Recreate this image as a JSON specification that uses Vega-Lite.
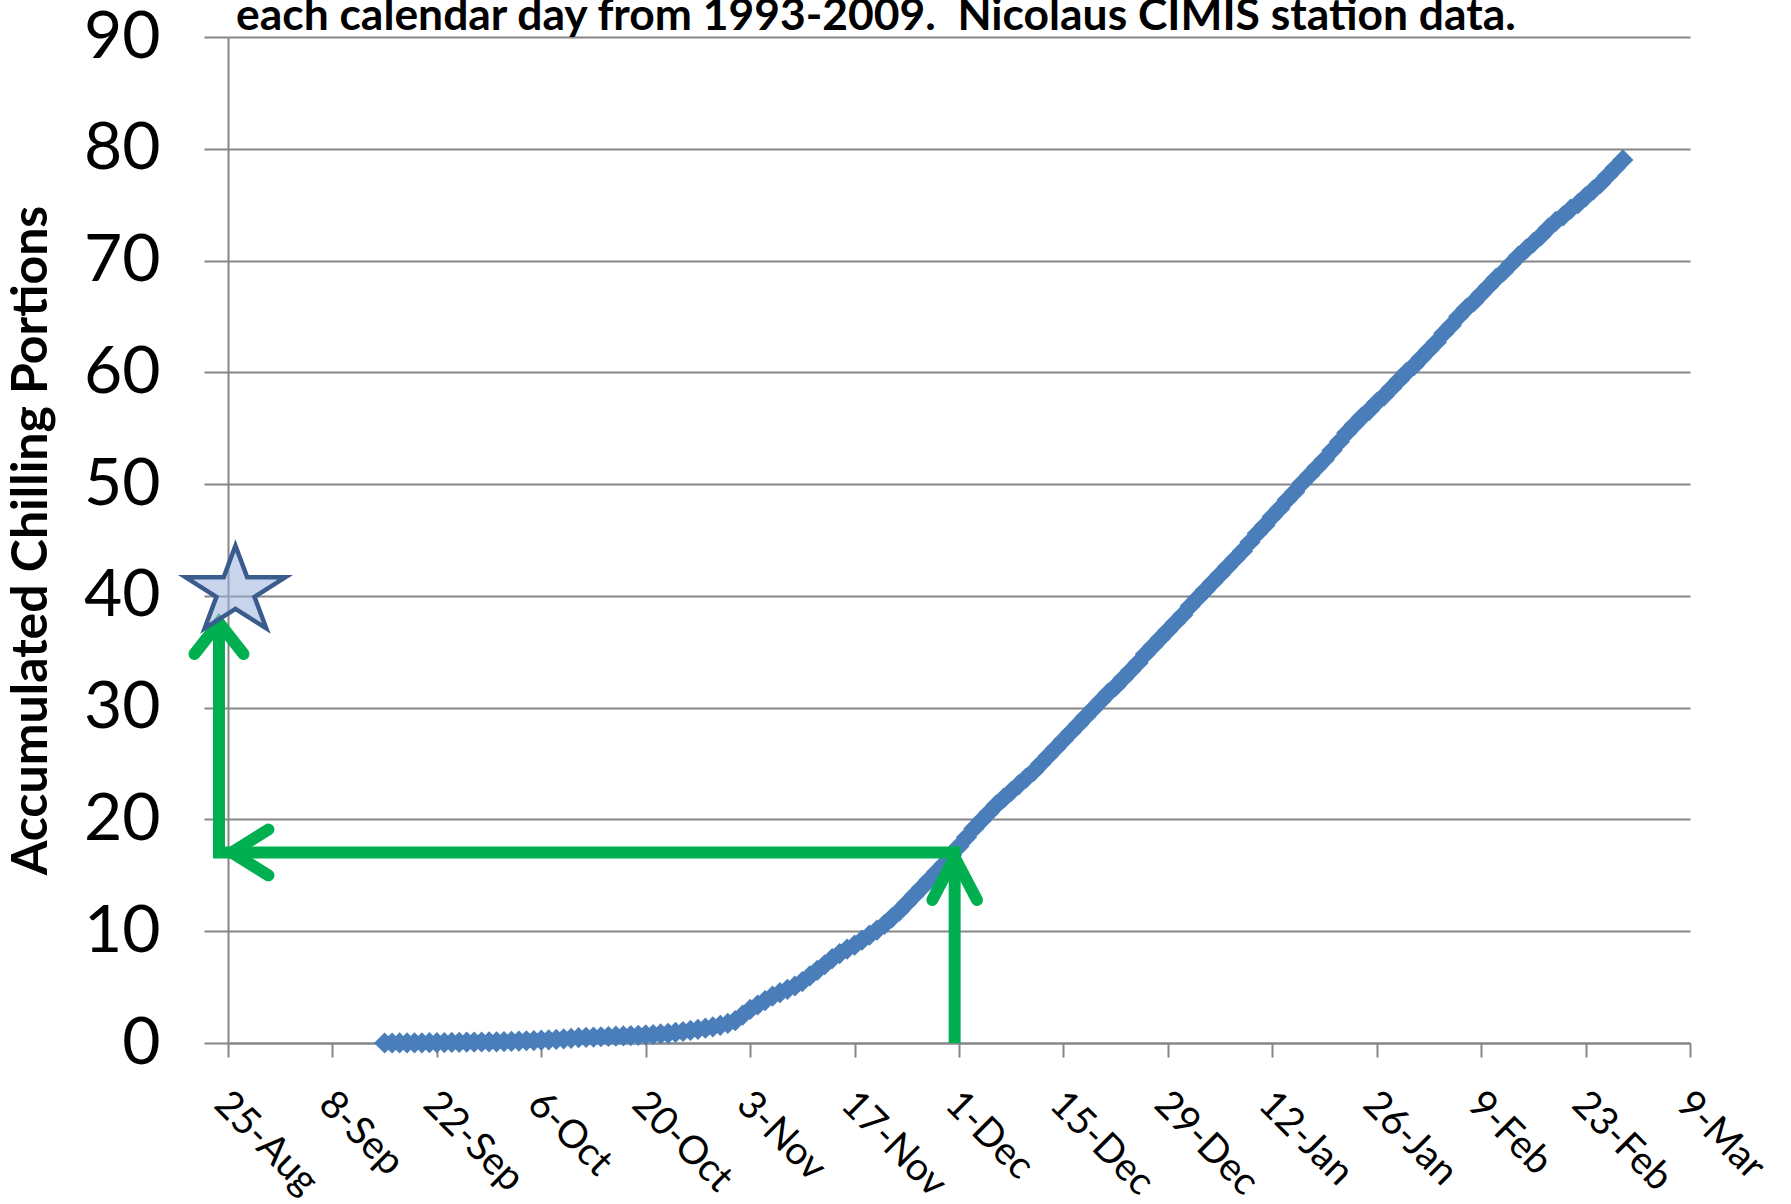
{
 "$schema": "https://vega.github.io/schema/vega-lite/v6.json",
 "width": 1462,
 "height": 1006,
 "autosize": {"type": "none"},
 "padding": {"left": 228, "top": 37, "right": 101, "bottom": 161},
 "background": "white",
 "config": {"view": {"stroke": null}, "font": "Lato"},
 "title": {"text": "each calendar day from 1993-2009.\u00a0 Nicolaus CIMIS station data.", "anchor": "start", "frame": "group", "orient": "top", "offset": 0, "dx": 8, "dy": 70, "baseline": "alphabetic", "font": "Lato", "fontSize": 44.4, "fontWeight": "bold", "color": "black"},
 "datasets": {
  "cp": [
   {"date":"2008-09-15","cp":0.00},{"date":"2008-09-16","cp":0.00},{"date":"2008-09-17","cp":0.01},{"date":"2008-09-18","cp":0.01},{"date":"2008-09-19","cp":0.02},{"date":"2008-09-20","cp":0.02},{"date":"2008-09-21","cp":0.03},{"date":"2008-09-22","cp":0.03},{"date":"2008-09-23","cp":0.04},{"date":"2008-09-24","cp":0.05},{"date":"2008-09-25","cp":0.06},{"date":"2008-09-26","cp":0.07},{"date":"2008-09-27","cp":0.08},{"date":"2008-09-28","cp":0.09},{"date":"2008-09-29","cp":0.10},{"date":"2008-09-30","cp":0.11},
   {"date":"2008-10-01","cp":0.13},{"date":"2008-10-02","cp":0.15},{"date":"2008-10-03","cp":0.17},{"date":"2008-10-04","cp":0.20},{"date":"2008-10-05","cp":0.22},{"date":"2008-10-06","cp":0.25},{"date":"2008-10-07","cp":0.28},{"date":"2008-10-08","cp":0.32},{"date":"2008-10-09","cp":0.36},{"date":"2008-10-10","cp":0.42},{"date":"2008-10-11","cp":0.48},{"date":"2008-10-12","cp":0.51},{"date":"2008-10-13","cp":0.53},{"date":"2008-10-14","cp":0.56},{"date":"2008-10-15","cp":0.58},{"date":"2008-10-16","cp":0.61},{"date":"2008-10-17","cp":0.63},{"date":"2008-10-18","cp":0.66},{"date":"2008-10-19","cp":0.69},{"date":"2008-10-20","cp":0.72},{"date":"2008-10-21","cp":0.76},{"date":"2008-10-22","cp":0.81},{"date":"2008-10-23","cp":0.87},{"date":"2008-10-24","cp":0.95},{"date":"2008-10-25","cp":1.03},{"date":"2008-10-26","cp":1.12},{"date":"2008-10-27","cp":1.22},{"date":"2008-10-28","cp":1.33},{"date":"2008-10-29","cp":1.45},{"date":"2008-10-30","cp":1.58},{"date":"2008-10-31","cp":1.75},
   {"date":"2008-11-01","cp":2.0},{"date":"2008-11-02","cp":2.5},{"date":"2008-11-03","cp":3.0},{"date":"2008-11-04","cp":3.4},{"date":"2008-11-05","cp":3.8},{"date":"2008-11-06","cp":4.2},{"date":"2008-11-07","cp":4.5},{"date":"2008-11-08","cp":4.8},{"date":"2008-11-09","cp":5.1},{"date":"2008-11-10","cp":5.5},{"date":"2008-11-11","cp":6.0},{"date":"2008-11-12","cp":6.5},{"date":"2008-11-13","cp":7.0},{"date":"2008-11-14","cp":7.55},{"date":"2008-11-15","cp":8.0},{"date":"2008-11-16","cp":8.4},{"date":"2008-11-17","cp":8.75},{"date":"2008-11-18","cp":9.2},{"date":"2008-11-19","cp":9.65},{"date":"2008-11-20","cp":10.1},{"date":"2008-11-21","cp":10.6},{"date":"2008-11-22","cp":11.2},{"date":"2008-11-23","cp":11.8},{"date":"2008-11-24","cp":12.5},{"date":"2008-11-25","cp":13.2},{"date":"2008-11-26","cp":13.9},{"date":"2008-11-27","cp":14.6},{"date":"2008-11-28","cp":15.3},{"date":"2008-11-29","cp":16.0},{"date":"2008-11-30","cp":16.8},
   {"date":"2008-12-01","cp":17.6},{"date":"2008-12-02","cp":18.4},{"date":"2008-12-03","cp":19.2},{"date":"2008-12-04","cp":19.9},{"date":"2008-12-05","cp":20.6},{"date":"2008-12-06","cp":21.3},{"date":"2008-12-07","cp":21.9},{"date":"2008-12-08","cp":22.5},{"date":"2008-12-09","cp":23.1},{"date":"2008-12-10","cp":23.7},{"date":"2008-12-11","cp":24.3},{"date":"2008-12-12","cp":25.0},{"date":"2008-12-13","cp":25.7},{"date":"2008-12-14","cp":26.4},{"date":"2008-12-15","cp":27.1},{"date":"2008-12-16","cp":27.8},{"date":"2008-12-17","cp":28.5},{"date":"2008-12-18","cp":29.2},{"date":"2008-12-19","cp":29.9},{"date":"2008-12-20","cp":30.6},{"date":"2008-12-21","cp":31.3},{"date":"2008-12-22","cp":31.9},{"date":"2008-12-23","cp":32.6},{"date":"2008-12-24","cp":33.3},{"date":"2008-12-25","cp":34.0},{"date":"2008-12-26","cp":34.8},{"date":"2008-12-27","cp":35.5},{"date":"2008-12-28","cp":36.2},{"date":"2008-12-29","cp":36.9},{"date":"2008-12-30","cp":37.6},{"date":"2008-12-31","cp":38.3},
   {"date":"2009-01-01","cp":39.1},{"date":"2009-01-02","cp":39.8},{"date":"2009-01-03","cp":40.5},{"date":"2009-01-04","cp":41.2},{"date":"2009-01-05","cp":41.9},{"date":"2009-01-06","cp":42.6},{"date":"2009-01-07","cp":43.3},{"date":"2009-01-08","cp":44.0},{"date":"2009-01-09","cp":44.8},{"date":"2009-01-10","cp":45.6},{"date":"2009-01-11","cp":46.3},{"date":"2009-01-12","cp":47.1},{"date":"2009-01-13","cp":47.8},{"date":"2009-01-14","cp":48.6},{"date":"2009-01-15","cp":49.3},{"date":"2009-01-16","cp":50.1},{"date":"2009-01-17","cp":50.8},{"date":"2009-01-18","cp":51.5},{"date":"2009-01-19","cp":52.2},{"date":"2009-01-20","cp":53.0},{"date":"2009-01-21","cp":53.8},{"date":"2009-01-22","cp":54.6},{"date":"2009-01-23","cp":55.3},{"date":"2009-01-24","cp":56.0},{"date":"2009-01-25","cp":56.6},{"date":"2009-01-26","cp":57.3},{"date":"2009-01-27","cp":57.9},{"date":"2009-01-28","cp":58.6},{"date":"2009-01-29","cp":59.3},{"date":"2009-01-30","cp":60.0},{"date":"2009-01-31","cp":60.6},
   {"date":"2009-02-01","cp":61.3},{"date":"2009-02-02","cp":62.0},{"date":"2009-02-03","cp":62.7},{"date":"2009-02-04","cp":63.5},{"date":"2009-02-05","cp":64.2},{"date":"2009-02-06","cp":65.0},{"date":"2009-02-07","cp":65.7},{"date":"2009-02-08","cp":66.3},{"date":"2009-02-09","cp":67.0},{"date":"2009-02-10","cp":67.7},{"date":"2009-02-11","cp":68.4},{"date":"2009-02-12","cp":69.0},{"date":"2009-02-13","cp":69.7},{"date":"2009-02-14","cp":70.4},{"date":"2009-02-15","cp":71.0},{"date":"2009-02-16","cp":71.6},{"date":"2009-02-17","cp":72.2},{"date":"2009-02-18","cp":72.9},{"date":"2009-02-19","cp":73.5},{"date":"2009-02-20","cp":74.0},{"date":"2009-02-21","cp":74.6},{"date":"2009-02-22","cp":75.1},{"date":"2009-02-23","cp":75.7},{"date":"2009-02-24","cp":76.3},{"date":"2009-02-25","cp":76.9},{"date":"2009-02-26","cp":77.6},{"date":"2009-02-27","cp":78.3},{"date":"2009-02-28","cp":79.0}
  ],
  "shafts": [
   {"g":"s","o":1,"date":"2008-11-30T10:00:00Z","cp":0},
   {"g":"s","o":2,"date":"2008-11-30T10:00:00Z","cp":17.05},
   {"g":"s","o":3,"date":"2008-08-23T19:00:00Z","cp":17.05},
   {"g":"s","o":4,"date":"2008-08-23T19:00:00Z","cp":37.2}
  ],
  "heads": [
   {"g":"a","o":1,"date":"2008-11-27T10:00:00Z","cp":12.8},
   {"g":"a","o":2,"date":"2008-11-30T10:00:00Z","cp":16.6},
   {"g":"a","o":3,"date":"2008-12-03T10:00:00Z","cp":12.8},
   {"g":"b","o":1,"date":"2008-08-30T10:00:00Z","cp":19.1},
   {"g":"b","o":2,"date":"2008-08-25T12:00:00Z","cp":17.05},
   {"g":"b","o":3,"date":"2008-08-30T10:00:00Z","cp":15.0},
   {"g":"c","o":1,"date":"2008-08-20T12:00:00Z","cp":34.8},
   {"g":"c","o":2,"date":"2008-08-23T19:00:00Z","cp":37.6},
   {"g":"c","o":3,"date":"2008-08-27T02:00:00Z","cp":34.8}
  ],
  "star": [{"date":"2008-08-26T00:00:00Z","cp":40.4}]
 },
 "encoding": {
  "x": {"field": "date", "type": "temporal",
   "scale": {"type": "utc", "domain": [{"year":2008,"month":8,"date":25,"utc":true},{"year":2009,"month":3,"date":9,"utc":true}]},
   "axis": {"title": null, "grid": false, "format": "%-d-%b",
    "values": [{"year":2008,"month":8,"date":25,"utc":true},{"year":2008,"month":9,"date":8,"utc":true},{"year":2008,"month":9,"date":22,"utc":true},{"year":2008,"month":10,"date":6,"utc":true},{"year":2008,"month":10,"date":20,"utc":true},{"year":2008,"month":11,"date":3,"utc":true},{"year":2008,"month":11,"date":17,"utc":true},{"year":2008,"month":12,"date":1,"utc":true},{"year":2008,"month":12,"date":15,"utc":true},{"year":2008,"month":12,"date":29,"utc":true},{"year":2009,"month":1,"date":12,"utc":true},{"year":2009,"month":1,"date":26,"utc":true},{"year":2009,"month":2,"date":9,"utc":true},{"year":2009,"month":2,"date":23,"utc":true},{"year":2009,"month":3,"date":9,"utc":true}],
    "labelAngle": 45, "labelAlign": "left", "labelBaseline": "top", "labelFont": "Lato", "labelFontSize": 39, "labelColor": "black", "labelPadding": 27, "labelOffset": 6, "labelOverlap": false, "labelFlush": false, "labelBound": false,
    "tickSize": 14, "tickWidth": 2, "tickColor": "#868686", "domainColor": "#868686", "domainWidth": 2}},
  "y": {"field": "cp", "type": "quantitative",
   "scale": {"domain": [0, 90], "nice": false, "zero": true},
   "axis": {"title": "Accumulated Chilling Portions", "values": [0,10,20,30,40,50,60,70,80,90],
    "labelFont": "Lato", "labelFontSize": 66, "labelColor": "black", "labelPadding": 44,
    "tickSize": 24, "tickWidth": 2, "tickColor": "#868686", "domainColor": "#868686", "domainWidth": 2,
    "gridColor": "#868686", "gridWidth": 2,
    "titleFont": "Lato", "titleFontSize": 50, "titleFontWeight": "bold", "titleColor": "black", "titlePadding": 27}}
 },
 "layer": [
  {"data": {"name": "cp"}, "mark": {"type": "line", "color": "#4a7ebb", "strokeWidth": 7}},
  {"data": {"name": "cp"}, "mark": {"type": "point", "shape": "diamond", "filled": true, "size": 450, "color": "#4a7ebb", "opacity": 1}},
  {"data": {"name": "shafts"}, "mark": {"type": "line", "color": "#00b050", "strokeWidth": 12, "strokeCap": "butt", "strokeJoin": "miter"},
   "encoding": {"detail": {"field": "g"}, "order": {"field": "o"}}},
  {"data": {"name": "heads"}, "mark": {"type": "line", "color": "#00b050", "strokeWidth": 12, "strokeCap": "round", "strokeJoin": "miter"},
   "encoding": {"detail": {"field": "g"}, "order": {"field": "o"}}},
  {"data": {"name": "star"}, "mark": {"type": "point", "shape": "M0,-1.014L0.261,-0.313L1.107,-0.313L0.423,0.120L0.684,0.820L0,0.387L-0.684,0.820L-0.423,0.120L-1.107,-0.313L-0.261,-0.313Z", "size": 8100, "filled": true, "fill": "#9ab3dc", "fillOpacity": 0.55, "stroke": "#3a5c8c", "strokeWidth": 4.5, "strokeOpacity": 1, "opacity": 1, "strokeJoin": "miter"}}
 ]
}
